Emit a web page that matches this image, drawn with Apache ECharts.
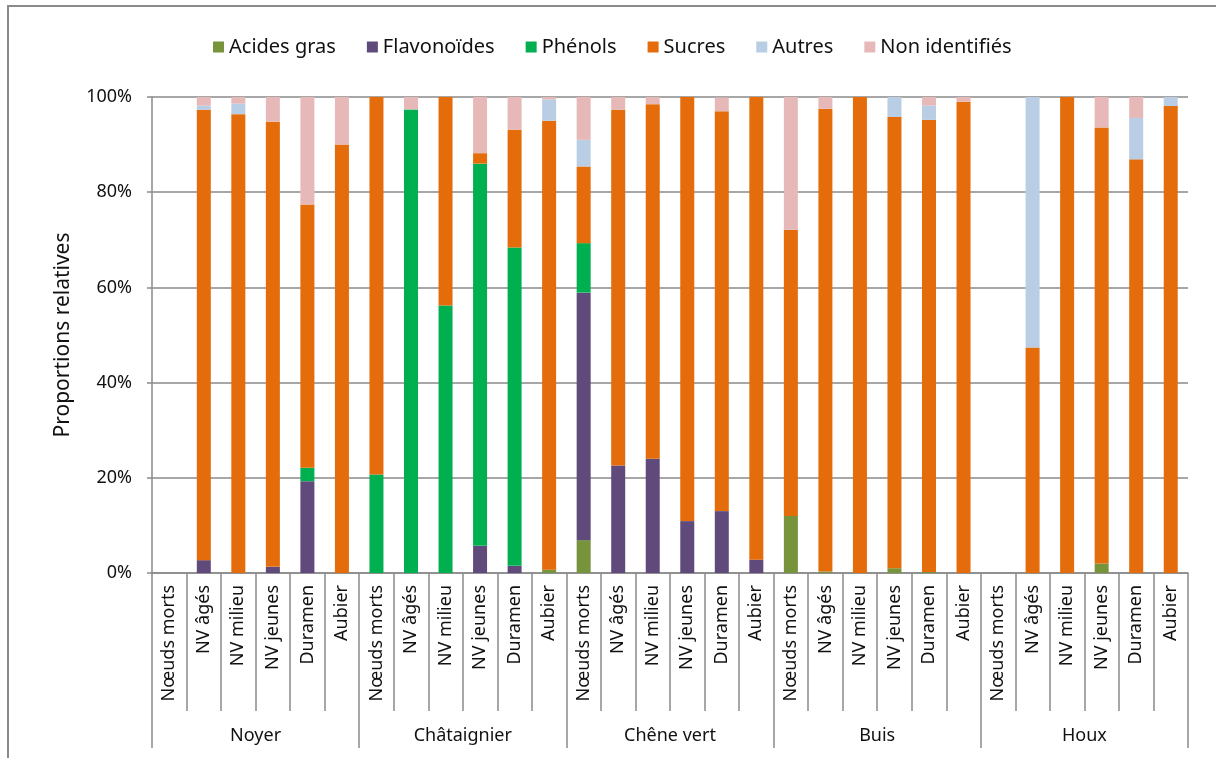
<!DOCTYPE html>
<html>
<head>
<meta charset="utf-8">
<script src="https://cdn.jsdelivr.net/npm/echarts@6/dist/echarts.min.js"></script>
<style>
  html, body { margin: 0; padding: 0; background: #fff; }
  #chart { width: 1216px; height: 758px; }
</style>
</head>
<body>
<div id="chart"></div>
<script>
// Species (outer level) and sample types (inner level)
const especes = ['Noyer', 'Châtaignier', 'Chêne vert', 'Buis', 'Houx'];
const echantillons = ['Nœuds morts', 'NV âgés', 'NV milieu', 'NV jeunes', 'Duramen', 'Aubier'];

// Relative proportions (%) per compound family, 6 samples per species
const acidesGras = [
  0, 0, 0, 0, 0, 0,
  0, 0, 0, 0, 0, 0.7,
  6.9, 0, 0, 0, 0, 0,
  12.0, 0.3, 0, 1.0, 0.2, 0,
  0, 0, 0, 2.0, 0, 0
];
const flavonoides = [
  0, 2.7, 0, 1.3, 19.3, 0,
  0, 0, 0, 5.7, 1.5, 0,
  52.0, 22.6, 24.0, 10.9, 13.0, 2.8,
  0, 0, 0, 0, 0, 0,
  0, 0, 0, 0, 0, 0
];
const phenols = [
  0, 0, 0, 0, 2.8, 0,
  20.7, 97.4, 56.2, 80.3, 66.9, 0,
  10.4, 0, 0, 0, 0, 0,
  0, 0, 0, 0, 0, 0,
  0, 0, 0, 0, 0, 0
];
const sucres = [
  0, 94.6, 96.4, 93.5, 55.3, 90.0,
  79.3, 0, 43.8, 2.2, 24.7, 94.3,
  16.1, 74.7, 74.5, 89.1, 84.0, 97.2,
  60.1, 97.2, 100, 94.8, 95.0, 99.0,
  0, 47.4, 100, 91.6, 86.9, 98.1
];
const autres = [
  0, 0.9, 2.2, 0, 0, 0,
  0, 0, 0, 0, 0, 4.5,
  5.6, 0, 0, 0, 0, 0,
  0, 0, 0, 4.2, 3.0, 0,
  0, 52.6, 0, 0, 8.7, 1.9
];
const nonIdentifies = [
  0, 1.8, 1.4, 5.2, 22.6, 10.0,
  0, 2.6, 0, 11.8, 6.9, 0.5,
  9.0, 2.7, 1.5, 0, 2.9, 0,
  27.9, 2.5, 0, 0, 1.8, 1.0,
  0, 0, 0, 6.4, 4.4, 0
];

const yTicks = [0, 20, 40, 60, 80, 100];

// Flattened inner-level categories
const categories = [];
especes.forEach(function (e) {
  echantillons.forEach(function (s) { categories.push(e + '|' + s); });
});

const familles = [
  { name: 'Acides gras', data: acidesGras, color: '#77933C' },
  { name: 'Flavonoïdes', data: flavonoides, color: '#604A7B' },
  { name: 'Phénols', data: phenols, color: '#00B050' },
  { name: 'Sucres', data: sucres, color: '#E46C0A' },
  { name: 'Autres', data: autres, color: '#B9CDE5' },
  { name: 'Non identifiés', data: nonIdentifies, color: '#E6B9B8' }
];

const FONT = '"Noto Sans", "Open Sans", sans-serif';
const GRAY = '#8a8a8a';

const chart = echarts.init(document.getElementById('chart'), null, { renderer: 'canvas' });

chart.setOption({
  backgroundColor: '#ffffff',
  animation: false,
  textStyle: { fontFamily: FONT, color: '#111' },
  graphic: [{
    type: 'rect',
    shape: { x: 8, y: 6, width: 1300, height: 800 },
    style: { fill: 'none', stroke: GRAY, lineWidth: 2 },
    silent: true,
    z: -10
  }],
  legend: {
    left: 208,
    top: 32,
    icon: 'rect',
    itemWidth: 11,
    itemHeight: 11,
    itemGap: 31,
    textStyle: { fontFamily: FONT, fontSize: 20, color: '#111' },
    data: familles.map(function (f) { return f.name; })
  },
  grid: { left: 152, right: 28, top: 97, bottom: 185, containLabel: false },
  xAxis: [
    {
      type: 'category',
      data: categories,
      position: 'bottom',
      offset: 0,
      axisLine: { show: true, lineStyle: { color: GRAY, width: 1.5 } },
      axisTick: { show: true, interval: 0, length: 138, lineStyle: { color: GRAY, width: 1.5 } },
      axisLabel: {
        interval: 0,
        rotate: 90,
        margin: 12,
        fontFamily: FONT,
        fontSize: 18,
        color: '#111',
        formatter: function (v) { return v.split('|')[1]; }
      },
      splitLine: { show: false }
    },
    {
      type: 'category',
      data: especes,
      position: 'bottom',
      offset: 0,
      axisLine: { show: false },
      axisTick: { show: true, interval: 0, length: 175, lineStyle: { color: GRAY, width: 1.5 } },
      axisLabel: {
        interval: 0,
        margin: 154,
        fontFamily: FONT,
        fontSize: 18,
        color: '#111'
      },
      splitLine: { show: false }
    }
  ],
  yAxis: {
    type: 'value',
    min: yTicks[0],
    max: yTicks[yTicks.length - 1],
    interval: yTicks[1] - yTicks[0],
    name: 'Proportions relatives',
    nameLocation: 'middle',
    nameGap: 78,
    nameRotate: 90,
    nameTextStyle: { fontFamily: FONT, fontSize: 21, color: '#111' },
    axisLine: { show: true, lineStyle: { color: GRAY, width: 1.5 } },
    axisTick: { show: true, length: 5, lineStyle: { color: GRAY, width: 1.5 } },
    axisLabel: {
      margin: 20,
      fontFamily: FONT,
      fontSize: 18,
      color: '#111',
      formatter: '{value}%'
    },
    splitLine: { show: true, lineStyle: { color: GRAY, width: 1.5 } }
  },
  series: familles.map(function (f) {
    return {
      name: f.name,
      type: 'bar',
      stack: 'total',
      xAxisIndex: 0,
      barWidth: 14,
      itemStyle: { color: f.color },
      data: f.data
    };
  })
});
</script>
</body>
</html>
